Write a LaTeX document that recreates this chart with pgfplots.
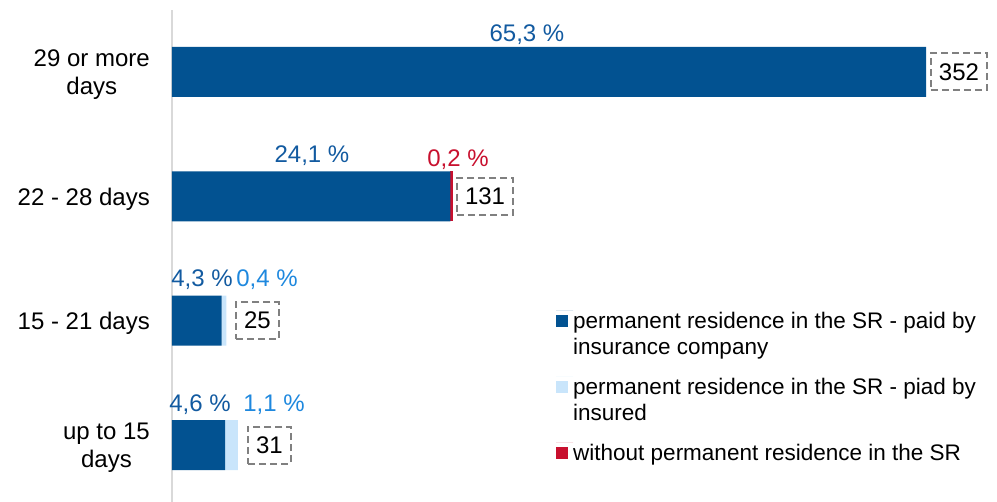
\documentclass[border=0pt]{standalone}
\usepackage{fontspec}
\setmainfont{Liberation Sans}
\usepackage{pgfplots}
\pgfplotsset{compat=1.18}
\definecolor{cBlue}{RGB}{2,82,145}
\definecolor{cLight}{RGB}{201,229,251}
\definecolor{cRed}{RGB}{200,16,46}
\definecolor{lBlue}{RGB}{18,90,160}
\definecolor{lLight}{RGB}{30,136,222}
\definecolor{boxGray}{RGB}{128,128,128}
\definecolor{axGray}{RGB}{217,217,217}
\tikzset{
  lab/.style={font=\fontsize{24}{28}\selectfont, inner sep=0pt, anchor=base},
  tot/.style={font=\fontsize{24}{28}\selectfont, draw=boxGray, dash pattern=on 7pt off 4pt, line width=2pt, inner xsep=8pt, inner ysep=0pt, minimum height=37pt, anchor=west, fill=white}
}
\begin{document}
\begin{tikzpicture}
\useasboundingbox (0,0) rectangle (997pt,-502pt);
\begin{axis}[
  at={(172pt,-502pt)}, anchor=south west,
  scale only axis, width=808.3pt, height=492pt,
  xmin=0, xmax=70, ymin=-0.458, ymax=3.498,
  xbar stacked, bar width=50pt,
  axis x line=none, axis y line*=left,
  y axis line style={draw=axGray, line width=1.5pt},
  ytick={0,1,2,3},
  yticklabels={{up to 15\\days},{15 - 21 days},{22 - 28 days},{29 or more\\days}},
  major tick length=0pt,
  yticklabel style={align=center, anchor=east, inner sep=0pt, xshift=-22pt, yshift=-2.5pt, font=\fontsize{24}{28}\selectfont},
  clip=false,
  legend cell align=left,
  legend image code/.code={\path (0pt,0pt) -- (17pt,0pt); \fill[#1,draw=none] (0pt,-4.7pt) rectangle (12pt,-16.7pt);},
  legend style={draw=none, fill=none, inner sep=0pt, anchor=north west,
    at={(axis description cs:0.4751,0.390)},
    font=\fontsize{22.5}{26}\selectfont, row sep=20pt,
    cells={anchor=north west},
    nodes={align=left, inner sep=0pt}},
]
\addplot[fill=cBlue, draw=none] coordinates {(4.6,0) (4.3,1) (24.1,2) (65.3,3)};
\addlegendentry{\strut permanent residence in the SR - paid by\\insurance company\strut}
\addplot[fill=cLight, draw=none] coordinates {(1.1,0) (0.4,1) (0,2) (0,3)};
\addlegendentry{\strut permanent residence in the SR - piad by\\insured\strut}
\addplot[fill=cRed, draw=none] coordinates {(0,0) (0,1) (0.2,2) (0,3)};
\addlegendentry{\strut without permanent residence in the SR\strut}

\node[lab, text=lBlue] at (axis cs:30.74,3.245) {65,3 \%};
\node[lab, text=lBlue] at (axis cs:12.12,2.268) {24,1 \%};
\node[lab, text=lBlue] at (axis cs:2.60,1.273) {4,3 \%};
\node[lab, text=lBlue] at (axis cs:2.42,0.268) {4,6 \%};
\node[lab, text=lLight] at (axis cs:8.23,1.273) {0,4 \%};
\node[lab, text=lLight] at (axis cs:8.83,0.268) {1,1 \%};
\node[lab, text=cRed] at (axis cs:24.77,2.236) {0,2 \%};

\node[tot] at (axis cs:65.64,3) {352};
\node[tot] at (axis cs:24.60,2) {131};
\node[tot] at (axis cs:5.46,1) {25};
\node[tot] at (axis cs:6.50,0) {31};
\end{axis}
\end{tikzpicture}
\end{document}
